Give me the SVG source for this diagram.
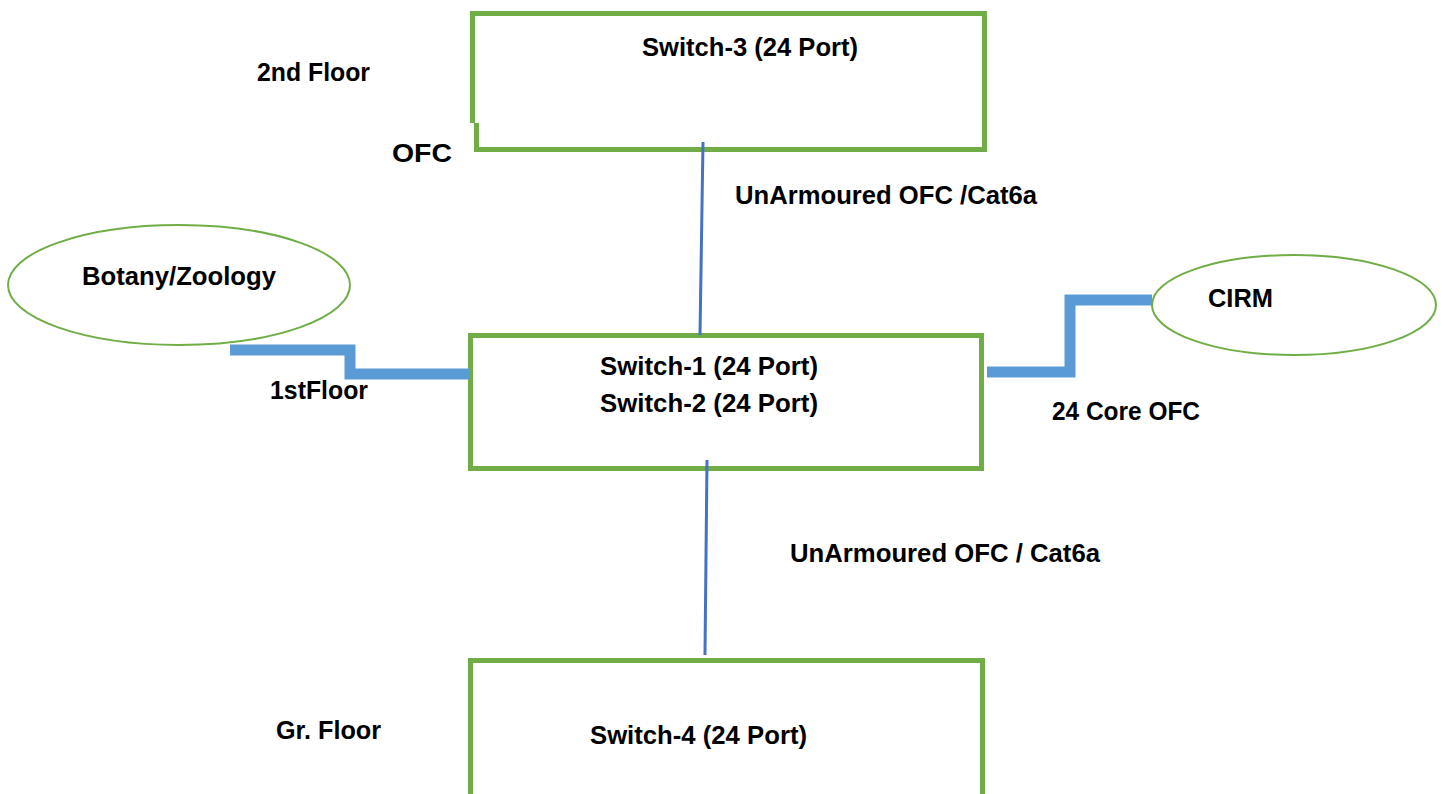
<svg xmlns="http://www.w3.org/2000/svg" width="1444" height="794" viewBox="0 0 1444 794">
<style>
.box{fill:#fff;stroke:#70AD47;stroke-width:5}
.ell{fill:#fff;stroke:#70AD47;stroke-width:2}
.t{font-family:"Liberation Sans",Arial,sans-serif;font-weight:bold;font-size:25px;fill:#000}
.thick{fill:none;stroke:#5B9BD5;stroke-width:11}
.thin{fill:none;stroke:#4472C4;stroke-width:3}
</style>
<rect width="1444" height="794" fill="#fff"/>
<g id="labels">
<text class="t" x="257" y="81" textLength="113" lengthAdjust="spacingAndGlyphs">2nd Floor</text>
<text class="t" x="392" y="162" textLength="60" lengthAdjust="spacingAndGlyphs">OFC</text>
<text class="t" x="735" y="204" textLength="302" lengthAdjust="spacingAndGlyphs">UnArmoured OFC /Cat6a</text>
<text class="t" x="270" y="399" textLength="98" lengthAdjust="spacingAndGlyphs">1stFloor</text>
<text class="t" x="1052" y="420" textLength="148" lengthAdjust="spacingAndGlyphs">24 Core OFC</text>
<text class="t" x="790" y="562" textLength="310" lengthAdjust="spacingAndGlyphs">UnArmoured OFC / Cat6a</text>
<text class="t" x="276" y="739" textLength="105" lengthAdjust="spacingAndGlyphs">Gr. Floor</text>
</g>
<g id="switch3">
<path class="box" d="M472.5,123 V13.5 H984.5 V149.5 H476.5 V123"/>
<text class="t" x="642" y="56" textLength="216" lengthAdjust="spacingAndGlyphs">Switch-3 (24 Port)</text>
</g>
<g id="switch12">
<rect class="box" x="470.5" y="335.5" width="511" height="133"/>
<text class="t" x="600" y="375" textLength="218" lengthAdjust="spacingAndGlyphs">Switch-1 (24 Port)</text>
<text class="t" x="600" y="412" textLength="218" lengthAdjust="spacingAndGlyphs">Switch-2 (24 Port)</text>
</g>
<g id="switch4">
<rect class="box" x="470.5" y="660.5" width="512" height="140"/>
<text class="t" x="590" y="744" textLength="217" lengthAdjust="spacingAndGlyphs">Switch-4 (24 Port)</text>
</g>
<g id="botany">
<ellipse class="ell" cx="179" cy="285" rx="171" ry="60"/>
<text class="t" x="82" y="285" textLength="194" lengthAdjust="spacingAndGlyphs">Botany/Zoology</text>
</g>
<g id="cirm">
<ellipse class="ell" cx="1294" cy="305" rx="142" ry="50"/>
<text class="t" x="1208" y="307" textLength="65" lengthAdjust="spacingAndGlyphs">CIRM</text>
</g>
<g id="connectors">
<path class="thick" d="M230,350 H350 V374 H470"/>
<path class="thick" d="M987,372 H1070 V300 H1152"/>
<path class="thin" d="M703,142 L700,335"/>
<path class="thin" d="M707,460 L705,655"/>
</g>
</svg>
